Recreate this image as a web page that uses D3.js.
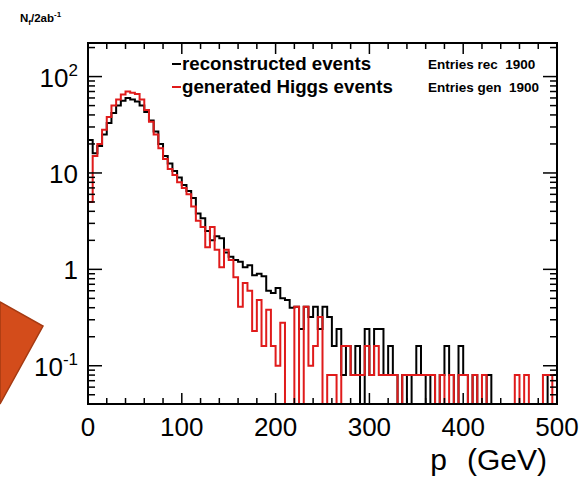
<!DOCTYPE html>
<html>
<head>
<meta charset="utf-8">
<script src="https://cdn.jsdelivr.net/npm/d3@7"></script>
<style>
  body { margin: 0; background: #fff; }
  svg { display: block; font-family: "Liberation Sans", Arial, sans-serif; }
</style>
</head>
<body>
<svg id="chart"></svg>
<script>
// Binning (GeV)
const xDomain = [0, 500];
const binWidth = 5;

// reconstructed events per bin, 0-5, 5-10, ... 495-500 GeV
const recoValues = [
  22, 16, 19, 25, 33, 42, 50, 56, 60, 58,
  55, 50, 43, 35, 27, 20, 15, 12.5, 10.5, 9,
  7.5, 6.5, 5.5, 3.8, 3.4, 2.5, 2.0, 2.2, 2.1, 1.5,
  1.35, 1.25, 1.2, 1.05, 1.1, 0.87, 0.9, 0.85, 0.6, 0.57,
  0.64, 0.5, 0.48, 0.4, 0.41, 0.24, 0.41, 0.32, 0.41, 0.24,
  0.41, 0.32, 0.16, 0.24, 0.08, 0.16, 0.08, 0.16, 0, 0.24,
  0.08, 0.24, 0.24, 0.08, 0.16, 0.08, 0, 0.08, 0, 0.08,
  0.16, 0.08, 0, 0.08, 0, 0.08, 0.16, 0.08, 0, 0.16,
  0.08, 0, 0.08, 0, 0, 0.08, 0, 0, 0, 0,
  0, 0, 0, 0, 0, 0, 0, 0, 0.08, 0.08
];

// generated Higgs events per bin
const genValues = [
  5, 15, 20, 28, 38, 50, 58, 65, 70, 68,
  66, 58, 45, 34, 25, 18, 14, 11, 9.5, 8,
  7, 6, 4.5, 3.2, 2.75, 1.7, 2.75, 1.6, 1.05, 1.6,
  1.25, 0.83, 0.41, 0.72, 0.6, 0.23, 0.48, 0.16, 0.38, 0.16,
  0.1, 0.28, 0, 0, 0.41, 0, 0.41, 0.1, 0.16, 0.32,
  0, 0.08, 0.08, 0, 0.16, 0.16, 0.08, 0.08, 0.08, 0.16,
  0.08, 0.16, 0.08, 0.08, 0.08, 0.08, 0, 0.08, 0.08, 0.08,
  0.08, 0.08, 0.08, 0.08, 0, 0.08, 0, 0.08, 0, 0.08,
  0.08, 0, 0.08, 0, 0.08, 0, 0, 0, 0, 0,
  0, 0.08, 0, 0.08, 0, 0, 0, 0.08, 0.08, 0
];

// Axis ticks and labels
const xTicks = [0, 100, 200, 300, 400, 500];
const xMinorTicks = d3.range(0, 501, 20);
const yTicks = [0.1, 1, 10, 100];
const yTickLabels = [["10", "-1"], ["1", ""], ["10", ""], ["10", "2"]];
const legendNames = ["reconstructed events", "generated Higgs events"];
const entryLabels = ["Entries rec  1900", "Entries gen  1900"];

// Chart Dimensions
const width = 588;
const height = 478;
const frame = { left: 88, right: 557, top: 43, bottom: 404 };

const svg = d3.select("#chart").attr("width", width).attr("height", height);

// slide decoration on the left
svg.append("polygon")
  .attr("points", "0,302 43,326 0,404")
  .attr("fill", "#d34c1b")
  .attr("stroke", "#a53a12")
  .attr("stroke-width", 1.5);

// Scales
const x = d3.scaleLinear().domain(xDomain).range([frame.left, frame.right]);
const y = d3.scaleLog().domain([0.0401, 223]).range([frame.bottom, frame.top]);
const yMin = y.domain()[0];

svg.append("clipPath").attr("id", "plot")
  .append("rect")
  .attr("x", frame.left).attr("y", frame.top)
  .attr("width", frame.right - frame.left)
  .attr("height", frame.bottom - frame.top);

// Histogram outline as a step path
function stepPath(values) {
  const pts = [[x(0), y(yMin)]];
  values.forEach((v, i) => {
    const yv = y(Math.max(v, yMin));
    pts.push([x(i * binWidth), yv]);
    pts.push([x((i + 1) * binWidth), yv]);
  });
  pts.push([x(xDomain[1]), y(yMin)]);
  return d3.line()(pts);
}

const colors = ["#000000", "#e01b1b"];

[recoValues, genValues].forEach((vals, k) => {
  svg.append("path")
    .attr("clip-path", "url(#plot)")
    .attr("d", stepPath(vals))
    .attr("fill", "none")
    .attr("stroke", colors[k])
    .attr("stroke-width", 2)
    .attr("stroke-linejoin", "miter");
});

// Frame
svg.append("rect")
  .attr("x", frame.left).attr("y", frame.top)
  .attr("width", frame.right - frame.left)
  .attr("height", frame.bottom - frame.top)
  .attr("fill", "none")
  .attr("stroke", "#000")
  .attr("stroke-width", 2);

// X axis ticks (inward, bottom and top)
const ticksG = svg.append("g").attr("stroke", "#000").attr("stroke-width", 1.5);
xMinorTicks.forEach((t) => {
  const len = t % 100 === 0 ? 11 : 6;
  ticksG.append("line")
    .attr("x1", x(t)).attr("x2", x(t))
    .attr("y1", frame.bottom).attr("y2", frame.bottom - len);
  ticksG.append("line")
    .attr("x1", x(t)).attr("x2", x(t))
    .attr("y1", frame.top).attr("y2", frame.top + len);
});

// Y axis ticks (log, inward, left and right)
const yAllTicks = [];
[0.01, 0.1, 1, 10, 100].forEach((d) => {
  for (let m = 1; m < 10; m++) yAllTicks.push({ v: d * m, major: m === 1 });
});
yAllTicks
  .filter((t) => t.v >= yMin && t.v <= y.domain()[1])
  .forEach((t) => {
    const len = t.major ? 14 : 7;
    ticksG.append("line")
      .attr("x1", frame.left).attr("x2", frame.left + len)
      .attr("y1", y(t.v)).attr("y2", y(t.v));
    ticksG.append("line")
      .attr("x1", frame.right).attr("x2", frame.right - len)
      .attr("y1", y(t.v)).attr("y2", y(t.v));
  });

// X tick labels
svg.append("g")
  .selectAll("text")
  .data(xTicks)
  .enter()
  .append("text")
  .attr("x", (d) => x(d))
  .attr("y", 436)
  .attr("text-anchor", "middle")
  .attr("font-size", 26)
  .text((d) => d);

// Y tick labels with superscripts
const yLab = svg.append("g")
  .selectAll("text")
  .data(yTicks)
  .enter()
  .append("text")
  .attr("x", 78)
  .attr("y", (d) => y(d) + 10)
  .attr("text-anchor", "end")
  .attr("font-size", 26);
yLab.append("tspan").text((d, i) => yTickLabels[i][0]);
yLab.append("tspan")
  .attr("dy", -11)
  .attr("font-size", 17)
  .text((d, i) => yTickLabels[i][1]);

// Axis titles
const yTitle = svg.append("text")
  .attr("x", 20).attr("y", 22)
  .attr("font-size", 11.5).attr("font-weight", "bold");
yTitle.append("tspan").text("N");
yTitle.append("tspan").attr("dy", 3).attr("font-size", 8).text("f");
yTitle.append("tspan").attr("dy", -3).text("/2ab");
yTitle.append("tspan").attr("dy", -5).attr("font-size", 8).text("-1");

const xTitle = svg.append("text")
  .attr("x", 547).attr("y", 470)
  .attr("text-anchor", "end")
  .attr("font-size", 30);
xTitle.append("tspan").text("p");
xTitle.append("tspan").attr("dx", 20).text("(GeV)");

// Legend
legendNames.forEach((name, i) => {
  const ly = 70 + i * 23;
  svg.append("line")
    .attr("x1", 172).attr("x2", 181)
    .attr("y1", ly - 6).attr("y2", ly - 6)
    .attr("stroke", colors[i])
    .attr("stroke-width", 2);
  svg.append("text")
    .attr("x", 182).attr("y", ly)
    .attr("font-size", 18.7)
    .attr("font-weight", "bold")
    .text(name);
  svg.append("text")
    .attr("x", 428).attr("y", ly - 1)
    .attr("font-size", 13.5)
    .attr("font-weight", "bold")
    .style("white-space", "pre")
    .text(entryLabels[i]);
});
</script>
</body>
</html>
